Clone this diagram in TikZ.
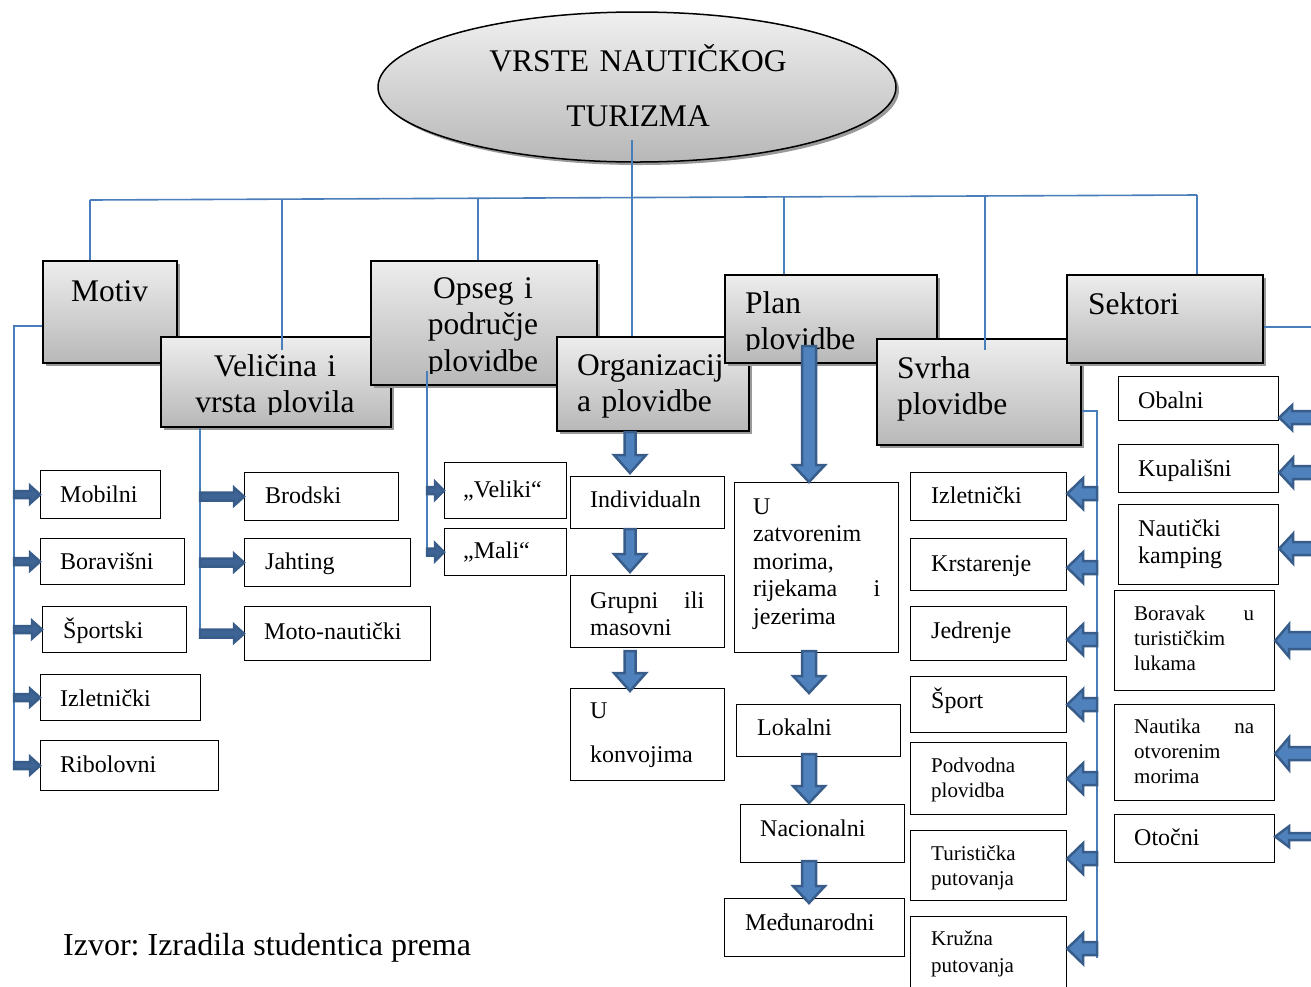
\documentclass[tikz,border=0pt]{standalone}
\usepackage{fontspec}
\setmainfont{Liberation Serif}
\frenchspacing
\usetikzlibrary{shapes.geometric,shadows,calc}
\definecolor{lineblue}{HTML}{4A7EBB}
\definecolor{adark}{HTML}{385D8A}
\definecolor{alight}{HTML}{4F81BD}
\tikzset{
  catbox/.style={draw=black, line width=2.2pt, top color=black!7, bottom color=black!28,
    drop shadow={shadow xshift=3pt, shadow yshift=-3pt, fill=black!40, opacity=1},
    anchor=north west, inner sep=0pt},
  leafbox/.style={draw=black, line width=1.2pt, fill=white, anchor=north west, inner sep=0pt},
  rootell/.style={ellipse, draw=black, line width=1.5pt, minimum width=518, minimum height=150,
    inner sep=0pt, top color=black!6, bottom color=black!28,
    drop shadow={shadow xshift=3pt, shadow yshift=-3pt, fill=black!40, opacity=1}},
  bluecon/.style={draw=lineblue, line width=1.6pt},
  blockarr/.style={draw=adark, fill=alight, line width=2.5pt, line join=miter},
  smallarr/.style={fill=adark!80!alight},
  tbig/.style={font=\fontsize{31.5}{36.5}\selectfont, inner sep=0pt},
  tmid/.style={font=\fontsize{24}{27.5}\selectfont, inner sep=0pt},
  tsml/.style={font=\fontsize{21}{25}\selectfont, inner sep=0pt},
}
\newcommand\mkbox[6][leafbox]{\node[#1, minimum width={#5-#3}, minimum height={#6-#4}] (#2) at (#3,#4) {};}
\newcommand\BArrow[6][]{%
  \path (#2) coordinate (baA);
  \path (#3) coordinate (baT);
  \path ($(baT)!#6pt!(baA)$) coordinate (baH);
  \filldraw[blockarr,#1] ($(baA)!#4pt!90:(baT)$) -- ($(baH)!#4pt!90:(baT)$) -- ($(baH)!#5pt!90:(baT)$) -- (baT)
    -- ($(baH)!#5pt!-90:(baT)$) -- ($(baH)!#4pt!-90:(baT)$) -- ($(baA)!#4pt!-90:(baT)$) -- cycle;}
\begin{document}
\begin{tikzpicture}[x=1pt,y=-1pt]
\useasboundingbox (0,0) rectangle (1311,986);
\clip (0,0) rectangle (1311,986);
\fill[white] (0,0) rectangle (1311,986);

% root
\node[rootell] (root) at (637,87) {};
\node[tbig, text width=420, align=center, anchor=base] (roott) at (638,71) {VRSTE NAUTIČKOG\\[19pt]TURIZMA};

% category boxes
\mkbox[catbox]{motiv}{42}{260}{176}{362}
\node[tbig, anchor=base west] (motivt) at (71,301) {Motiv};

\mkbox[catbox]{vel}{160}{336}{390}{426}
\begin{scope}
\clip (160,336) rectangle (390,414);
\node[tbig, text width=230, align=center, anchor=base] (velt) at (275,376) {Veličina i\\vrsta plovila};
\end{scope}

\mkbox[catbox]{ops}{370}{260}{596}{384}
\begin{scope}
\clip (370,260) rectangle (596,373);
\node[tbig, text width=226, align=center, anchor=base] (opst) at (483,298) {Opseg i\\područje\\plovidbe};
\end{scope}

\mkbox[catbox]{org}{556}{336}{748}{430}
\node[tbig, text width=180, align=left, anchor=base west] (orgt) at (577,375) {Organizacij\\a plovidbe};

\mkbox[catbox]{plan}{724}{274}{936}{362}
\begin{scope}
\clip (724,274) rectangle (936,350);
\node[tbig, text width=180, align=left, anchor=base west] (plant) at (745,313) {Plan\\plovidbe};
\end{scope}

\mkbox[catbox]{svr}{876}{338}{1080}{444}
\node[tbig, text width=170, align=left, anchor=base west] (svrt) at (897,378) {Svrha\\plovidbe};

\mkbox[catbox]{sek}{1066}{274}{1262}{362}
\node[tbig, anchor=base west] (sekt) at (1088,314) {Sektori};

% tree connectors
\coordinate (rootc) at (632,140);
\coordinate (busL) at (90,200);
\coordinate (busR) at (1197,195);
\coordinate (b2) at (282,199);
\coordinate (b3) at (478,199);
\coordinate (b5) at (784,197);
\coordinate (b6) at (985,197);
\draw[bluecon] (rootc) -- (rootc |- org.north);
\draw[bluecon] (busL) -- (busR);
\draw[bluecon] (busL) -- (busL |- motiv.north);
\draw[bluecon] (b2) -- ($(b2 |- vel.north)+(0,14)$);
\draw[bluecon] (b3) -- (b3 |- ops.north);
\draw[bluecon] (b5) -- (b5 |- plan.north);
\draw[bluecon] (b6) -- ($(b6 |- svr.north)+(0,12)$);
\draw[bluecon] (busR) -- (busR |- sek.north);

\coordinate (mv) at (14,766);
\coordinate (vv) at (200,632);
\coordinate (ov) at (427,553);
\coordinate (sv) at (1097,958);
\draw[bluecon] ([yshift=-14pt]motiv.west) -| (mv);
\draw[bluecon] (vv |- vel.south) -- (vv);
\draw[bluecon] ($(ov |- ops.south)+(0,-15)$) -- (ov);
\draw[bluecon] ([yshift=-19pt]svr.east) -| (sv);
\draw[bluecon] ([yshift=-8pt]sek.east) -- ++(70,0);

% Motiv leaves
\mkbox{mob}{40}{470}{160}{518}
\node[tmid, anchor=base west] (mobt) at (60,502) {Mobilni};
\mkbox{bor}{40}{538}{184}{584}
\node[tmid, anchor=base west] (bort) at (60,569) {Boravišni};
\mkbox{spo}{42}{606}{186}{652}
\node[tmid, anchor=base west] (spot) at (63,638) {Športski};
\mkbox{izl}{40}{674}{200}{720}
\node[tmid, anchor=base west] (izlt) at (60,706) {Izletnički};
\mkbox{rib}{40}{740}{218}{790}
\node[tmid, anchor=base west] (ribt) at (60,772) {Ribolovni};

% Velicina leaves
\mkbox{bro}{244}{472}{398}{520}
\node[tmid, anchor=base west] (brot) at (265,503) {Brodski};
\mkbox{jah}{244}{538}{410}{586}
\node[tmid, anchor=base west] (jaht) at (265,569) {Jahting};
\mkbox{mot}{244}{606}{430}{660}
\node[tmid, anchor=base west] (mott) at (264,639) {Moto-nautički};

% Opseg leaves
\mkbox{vk}{444}{462}{566}{518}
\node[tmid, anchor=base west] (vkt) at (463,497) {„Veliki“};
\mkbox{mal}{444}{528}{566}{575}
\node[tmid, anchor=base west] (malt) at (463,558) {„Mali“};

% Organizacija leaves
\mkbox{ind}{570}{476}{724}{528}
\node[tmid, anchor=base west] (indt) at (590,507) {Individualn};
\mkbox{gru}{570}{575}{724}{647}
\node[tmid, text width=114, align=left, anchor=base west] (grut) at (590,608) {Grupni\hfill ili\\masovni};
\mkbox{kon}{570}{688}{724}{780}
\node[tmid, text width=120, align=left, anchor=base west] (kont) at (590,718) {U\\[16.5pt]konvojima};

% Plan leaves
\mkbox{zat}{734}{482}{898}{652}
\node[tmid, text width=127, align=left, anchor=base west] (zatt) at (753,514) {U\\zatvorenim\\morima,\\rijekama\hfill i\\jezerima};
\mkbox{lok}{736}{704}{900}{756}
\node[tmid, anchor=base west] (lokt) at (757,735) {Lokalni};
\mkbox{nac}{740}{804}{904}{862}
\node[tmid, anchor=base west] (nact) at (760,836) {Nacionalni};
\mkbox{med}{724}{898}{904}{956}
\node[tmid, anchor=base west] (medt) at (745,930) {Međunarodni};

% Svrha leaves
\mkbox{sizl}{910}{472}{1066}{520}
\node[tmid, anchor=base west] (sizlt) at (931,503) {Izletnički};
\mkbox{krs}{910}{538}{1066}{590}
\node[tmid, anchor=base west] (krst) at (931,571) {Krstarenje};
\mkbox{jed}{910}{606}{1066}{660}
\node[tmid, anchor=base west] (jedt) at (931,638) {Jedrenje};
\mkbox{spt}{910}{676}{1066}{732}
\node[tmid, anchor=base west] (sptt) at (931,708) {Šport};
\mkbox{pod}{910}{742}{1066}{814}
\node[tsml, text width=130, align=left, anchor=base west] (podt) at (931,772) {Podvodna\\plovidba};
\mkbox{tur}{910}{830}{1066}{900}
\node[tsml, text width=130, align=left, anchor=base west] (turt) at (931,860) {Turistička\\putovanja};
\mkbox{kru}{910}{916}{1066}{1000}
\node[tsml, text width=130, align=left, anchor=base west] (krut) at (931,945) {Kružna\\[2pt]putovanja};

% Sektori leaves
\mkbox{oba}{1118}{376}{1278}{420}
\node[tmid, anchor=base west] (obat) at (1138,408) {Obalni};
\mkbox{kup}{1118}{444}{1278}{492}
\node[tmid, anchor=base west] (kupt) at (1138,476) {Kupališni};
\mkbox{kam}{1118}{504}{1278}{584}
\node[tmid, text width=130, align=left, anchor=base west] (kamt) at (1138,536) {Nautički\\kamping};
\mkbox{bov}{1114}{590}{1274}{690}
\node[tsml, text width=120, align=left, anchor=base west] (bovt) at (1134,620) {Boravak\hfill u\\turističkim\\lukama};
\mkbox{nao}{1114}{704}{1274}{800}
\node[tsml, text width=120, align=left, anchor=base west] (naot) at (1134,733) {Nautika\hfill na\\otvorenim\\morima};
\mkbox{oto}{1114}{814}{1274}{862}
\node[tmid, anchor=base west] (otot) at (1134,845) {Otočni};

% source
\node[font=\fontsize{32}{38}\selectfont, inner sep=0pt, anchor=base west] (izvor) at (63,955) {Izvor: Izradila studentica prema};

% block arrows: Motiv
\foreach \b in {mob,bor,spo,izl,rib}{\BArrow[smallarr]{mv |- \b.west}{\b.west}{3.5}{9}{10}}
% Velicina
\foreach \b in {bro,jah,mot}{\BArrow[smallarr]{vv |- \b.west}{\b.west}{4}{9}{10}}
% Opseg
\foreach \b in {vk,mal}{\BArrow[smallarr]{ov |- \b.west}{\b.west}{3.5}{9}{9}}
% Organizacija
\coordinate (ox) at (630,0);
\BArrow{ox |- org.south}{$(ox |- ind.north)+(0,-3)$}{5.5}{16}{18}
\BArrow{ox |- ind.south}{$(ox |- gru.north)+(0,-3)$}{5.5}{16}{18}
\BArrow{$(ox |- gru.south)+(0,3)$}{$(ox |- kon.north)+(0,3)$}{5.5}{16}{18}
% Plan
\coordinate (px) at (809,346);
\BArrow{px}{px |- zat.north}{7}{16}{17}
\BArrow{$(px |- zat.south)+(0,-2)$}{$(px |- lok.north)+(0,-11)$}{7}{16}{17}
\BArrow{$(px |- lok.south)+(0,-3)$}{$(px |- nac.north)+(0,-1)$}{7}{16}{17}
\BArrow{$(px |- nac.south)+(0,-2)$}{$(px |- med.north)+(0,5)$}{7}{16}{17}
% Svrha
\BArrow{$(sv |- sizl.east)+(0,-3)$}{$(sizl.east)+(0,-3)$}{6.5}{15.5}{16}
\BArrow{$(sv |- krs.east)+(0,3)$}{$(krs.east)+(0,3)$}{6.5}{15.5}{16}
\BArrow{$(sv |- jed.east)+(0,6)$}{$(jed.east)+(0,6)$}{6.5}{15.5}{16}
\BArrow{sv |- spt.east}{spt.east}{6.5}{15.5}{16}
\BArrow{sv |- pod.east}{pod.east}{6.5}{15.5}{16}
\BArrow{$(sv |- tur.east)+(0,-7)$}{$(tur.east)+(0,-7)$}{6.5}{15.5}{16}
\BArrow{$(sv |- kru.east)+(0,-10)$}{$(kru.east)+(0,-10)$}{6.5}{15.5}{16}
% Sektori
\coordinate (sr) at (1330,0);
\BArrow{$(sr |- oba.east)+(0,19)$}{$(oba.east)+(0,19)$}{6.5}{12.5}{13}
\BArrow{$(sr |- kup.east)+(0,4)$}{$(kup.east)+(0,4)$}{6.5}{15}{14}
\BArrow{$(sr |- kam.east)+(0,4)$}{$(kam.east)+(0,4)$}{6.5}{15}{14}
\BArrow{sr |- bov.east}{bov.east}{8.5}{16.5}{14}
\BArrow{$(sr |- nao.east)+(0,1)$}{$(nao.east)+(0,1)$}{6.5}{16.5}{14}
\BArrow{$(sr |- oto.east)+(0,-2)$}{$(oto.east)+(0,-2)$}{3.5}{10.5}{14}
\end{tikzpicture}
\end{document}
